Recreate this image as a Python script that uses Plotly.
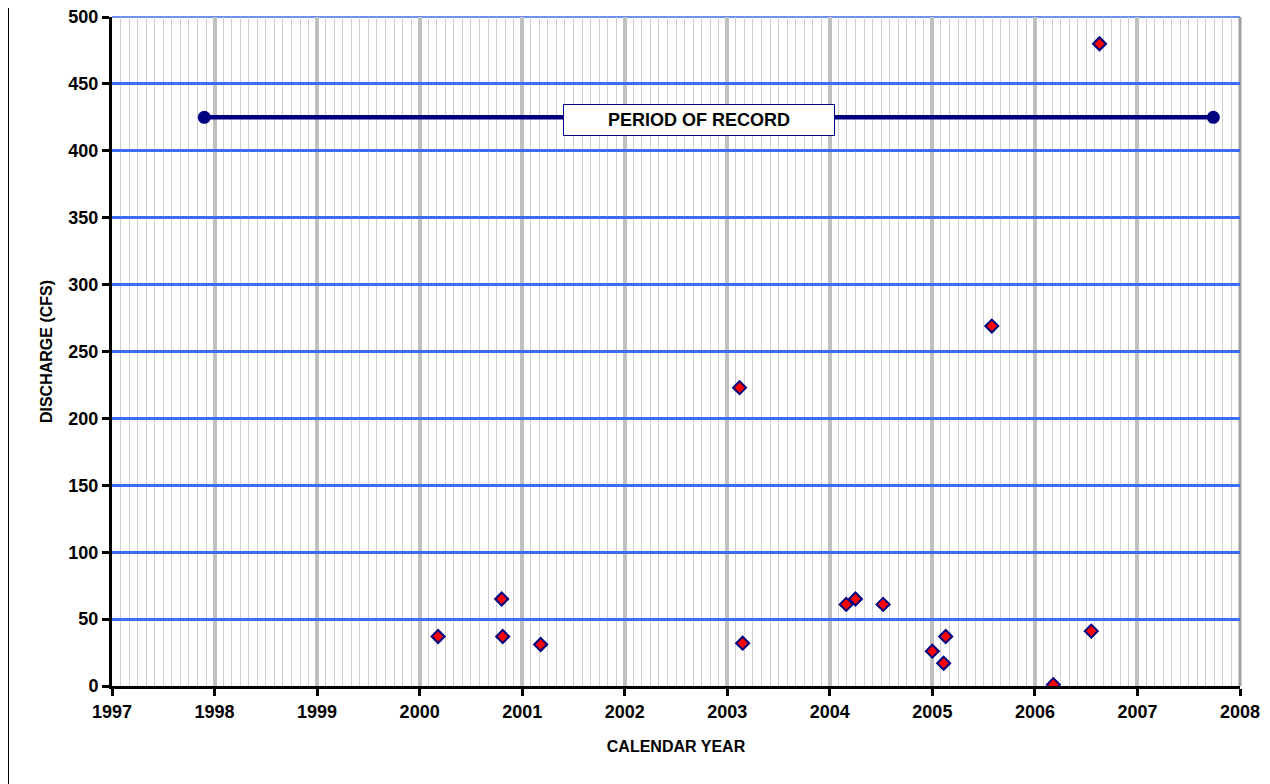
import plotly.graph_objects as go

# Observed discharge measurements
obs_year = [2000.18, 2000.80, 2000.81, 2001.18, 2003.12, 2003.15, 2004.16, 2004.25,
            2004.52, 2005.00, 2005.11, 2005.13, 2005.58, 2006.18, 2006.55, 2006.63]
obs_cfs = [37, 65, 37, 31, 223, 32, 61, 65, 61, 26, 17, 37, 269, 1, 41, 480]

# Period of record bar
por_year = [1997.9, 2007.74]
por_level = [425, 425]
por_label = "PERIOD OF RECORD"

x_ticks = list(range(1997, 2009))
y_ticks = list(range(0, 501, 50))

FONT = "Liberation Sans, Arial, sans-serif"

fig = go.Figure()

fig.add_trace(go.Scatter(
    x=por_year, y=por_level, mode="lines+markers",
    line=dict(color="#000080", width=4.5),
    marker=dict(symbol="circle", size=13, color="#000080"),
    hoverinfo="skip", showlegend=False,
))

fig.add_trace(go.Scatter(
    x=obs_year, y=obs_cfs, mode="markers",
    marker=dict(symbol="diamond", size=10, color="#ff0000",
                line=dict(color="#000080", width=2)),
    showlegend=False,
))

fig.add_annotation(
    x=(por_year[0] + por_year[1]) / 2 - 0.1, y=por_level[0],
    text="<b>" + por_label + "</b>", showarrow=False, yshift=-3,
    font=dict(family=FONT, size=18, color="black"),
    bgcolor="white", bordercolor="#000080", borderwidth=1,
    width=268, height=28, borderpad=1,
)

# left frame line of the chart area
fig.add_shape(type="line", xref="paper", yref="paper",
              x0=-0.0922, x1=-0.0922, y0=-0.2, y1=1.1,
              line=dict(color="black", width=2))
# plot-area top and right edges
fig.add_shape(type="line", xref="paper", yref="paper",
              x0=0, x1=1, y0=1, y1=1, layer="below",
              line=dict(color="#6a8ef2", width=2))
fig.add_shape(type="line", xref="paper", yref="paper",
              x0=1, x1=1, y0=0, y1=1, layer="below",
              line=dict(color="#a0a0a0", width=3))

fig.update_layout(
    width=1262, height=776,
    margin=dict(l=104, r=30, t=9, b=98),
    paper_bgcolor="white", plot_bgcolor="white",
    font=dict(family=FONT, color="black"),
    xaxis=dict(
        range=[1997, 2008], tickvals=x_ticks, ticktext=["<b>%d</b>" % v for v in x_ticks],
        showgrid=True, gridcolor="#c0c0c0", gridwidth=4,
        minor=dict(dtick=1/12, tick0=1997, showgrid=True, gridcolor="#cfcfcf", gridwidth=1),
        showline=True, linecolor="black", linewidth=3,
        ticks="outside", ticklen=7, tickwidth=3, tickcolor="black",
        tickfont=dict(family=FONT, size=18, color="black"),
        ticklabeloverflow="allow", automargin=False,
        title=dict(text="<b>CALENDAR YEAR</b>", font=dict(family=FONT, size=16), standoff=21),
        zeroline=False,
    ),
    yaxis=dict(
        range=[0, 500], tickvals=y_ticks, ticktext=["<b>%d</b>" % v for v in y_ticks],
        showgrid=True, gridcolor="#3a6cf6", gridwidth=3,
        showline=True, linecolor="black", linewidth=3,
        ticks="outside", ticklen=7, tickwidth=3, tickcolor="black",
        tickfont=dict(family=FONT, size=18, color="black"),
        ticklabeloverflow="allow", automargin=False,
        title=dict(text="<b>DISCHARGE (CFS)</b>", font=dict(family=FONT, size=16), standoff=12),
        zeroline=False,
    ),
)

fig.write_html("out.html")
